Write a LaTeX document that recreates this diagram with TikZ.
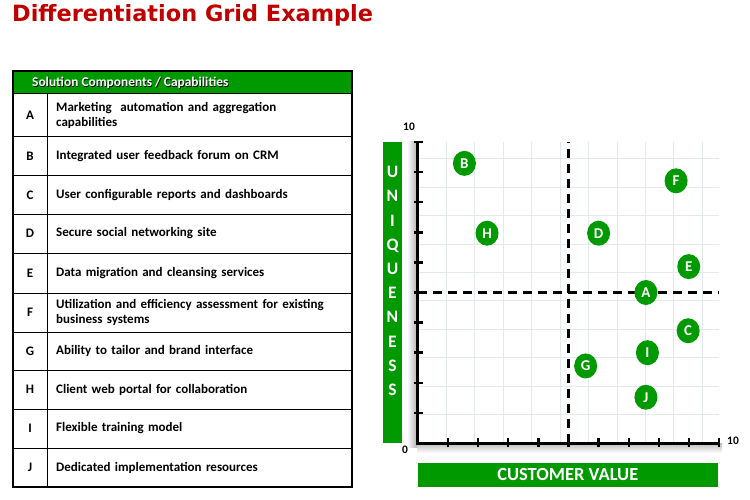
\documentclass[tikz,border=0pt]{standalone}
\usepackage{fontspec}
\setmainfont{Carlito}
\newfontfamily\titlefont{DejaVu Sans}
\usetikzlibrary{shapes.geometric}
\definecolor{grn}{RGB}{0,153,0}
\definecolor{ttl}{RGB}{192,0,0}
\definecolor{gridc}{RGB}{228,233,239}
\tikzset{
  rowtxt/.style={anchor=west,align=left,text width=292pt,font=\bfseries\fontsize{13}{14.5}\selectfont,inner sep=0pt},
  rowkey/.style={font=\bfseries\fontsize{13}{14}\selectfont,inner sep=0pt},
  dot/.style={ellipse,fill=grn,minimum width=23pt,minimum height=25pt,inner sep=0pt,text=white,font=\bfseries\fontsize{15}{15}\selectfont},
  axlbl/.style={font=\bfseries\fontsize{11.5}{11.5}\selectfont,inner sep=0pt},
  dashline/.style={line width=2.5pt,dash pattern=on 9pt off 6pt},
}
\begin{document}
\begin{tikzpicture}[x=1pt,y=-1pt]
\useasboundingbox (0,0) rectangle (750,500);
% title
\node[anchor=west,inner sep=0pt,text=ttl,font=\titlefont\bfseries\fontsize{22.4}{22.4}\selectfont] (title) at (12,15) {Differentiation Grid Example};
% table
\fill[grn] (13,71) rectangle (352,94);
\node[anchor=west,inner sep=0pt,text=black,font=\bfseries\fontsize{13.4}{13.4}\selectfont] at (32.7,83.7) {Solution Components / Capabilities};
\node[anchor=west,inner sep=0pt,text=white,font=\bfseries\fontsize{13.4}{13.4}\selectfont] (hdr) at (32,83) {Solution Components / Capabilities};
\foreach \y in {94,137,176,214,253,293,332,370,409,448}
  \draw[line width=1pt] (13,\y) -- (352,\y);
\draw[line width=1pt] (47.7,94) -- (47.7,487);
\draw[line width=2pt] (13,71) rectangle (352,487);
\node[rowkey] (kA) at (30,115.5) {A};
\node[rowtxt] (tA) at (56,115.5) {Marketing\ \ automation and aggregation\\capabilities};
\node[rowkey] (kB) at (30,156.5) {B};
\node[rowtxt] (tB) at (56,156.5) {Integrated user feedback forum on CRM};
\node[rowkey] (kC) at (30,195) {C};
\node[rowtxt] (tC) at (56,195) {User configurable reports and dashboards};
\node[rowkey] (kD) at (30,233.5) {D};
\node[rowtxt] (tD) at (56,233.5) {Secure social networking site};
\node[rowkey] (kE) at (30,273) {E};
\node[rowtxt] (tE) at (56,273) {Data migration and cleansing services};
\node[rowkey] (kF) at (30,312.5) {F};
\node[rowtxt] (tF) at (56,312.5) {Utilization and efficiency assessment for existing\\business systems};
\node[rowkey] (kG) at (30,351) {G};
\node[rowtxt] (tG) at (56,351) {Ability to tailor and brand interface};
\node[rowkey] (kH) at (30,389.5) {H};
\node[rowtxt] (tH) at (56,389.5) {Client web portal for collaboration};
\node[rowkey] (kI) at (30,428.5) {I};
\node[rowtxt] (tI) at (56,428.5) {Flexible training model};
\node[rowkey] (kJ) at (30,467.5) {J};
\node[rowtxt] (tJ) at (56,467.5) {Dedicated implementation resources};
% side labels
\fill[grn] (382.7,142) rectangle (402.3,443);
\node[inner sep=0pt,align=center,text=white,font=\bfseries\fontsize{17.5}{24.2}\selectfont] (uniq) at (392.5,281) {U\\N\\I\\Q\\U\\E\\N\\E\\S\\S};
\fill[grn] (417.7,462.7) rectangle (718,486.7);
\node[inner sep=0pt,text=white,font=\bfseries\fontsize{18.5}{18.5}\selectfont] (cv) at (567.8,474.7) {CUSTOMER VALUE};
% shadows
\shade[left color=white,right color=gray!60] (407,142) rectangle (417,447);
\shade[top color=gray!55,bottom color=white] (417,443) rectangle (722,453);
% chart
\begin{scope}[shift={(417.7,443)},x=30.15pt,y=30.1pt]
  \fill[white] (0,0) rectangle (10,10);
  \draw[gridc,line width=0.6pt] (0,0) grid (10,10);
  \draw[dashline] (5,0) -- (5,10);
  \draw[dashline] (0,5) -- (10,5);
  \draw[line width=3pt] (0,10) -- (0,0) -- (10,0);
  \foreach \i in {1,...,10} {
    \draw[line width=2.5pt] (-4pt,\i) -- ++(9pt,0);
    \draw[line width=2.5pt] (\i,-4pt) -- ++(0,9pt);
  }
  \node[dot] (B) at (1.55,9.29) {B};
  \node[dot] (F) at (8.57,8.71) {F};
  \node[dot] (H) at (2.30,6.97) {H};
  \node[dot] (D) at (6.0,6.97) {D};
  \node[dot] (E) at (8.99,5.86) {E};
  \node[dot] (A) at (7.57,5.0) {A};
  \node[dot] (C) at (8.97,3.73) {C};
  \node[dot] (I) at (7.62,3.0) {I};
  \node[dot] (G) at (5.57,2.56) {G};
  \node[dot] (J) at (7.57,1.52) {J};
\end{scope}
\node[axlbl] (ytop) at (409,127) {10};
\node[axlbl] (zero) at (405,450) {0};
\node[axlbl] (xend) at (733,441) {10};
\end{tikzpicture}
\end{document}
